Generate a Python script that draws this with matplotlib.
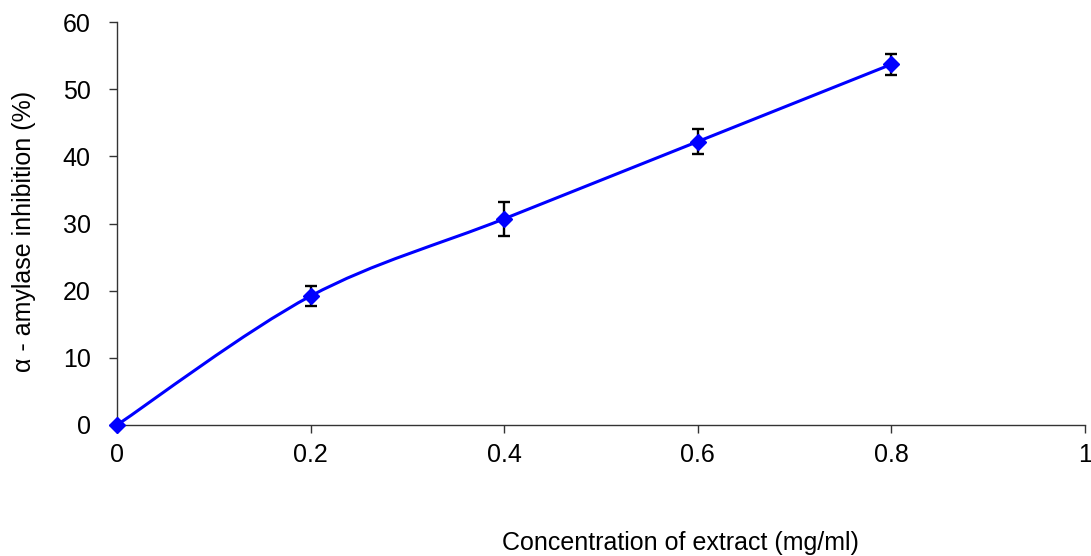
import matplotlib
matplotlib.use("Agg")
import matplotlib.pyplot as plt
from matplotlib.path import Path
from matplotlib.patches import PathPatch
import numpy as np

concentration = [0.0, 0.2, 0.4, 0.6, 0.8]
inhibition = [0.0, 19.2, 30.7, 42.2, 53.7]
error = [0.0, 1.5, 2.5, 1.9, 1.6]
xticks = [0, 0.2, 0.4, 0.6, 0.8, 1]
xticklabels = ["0", "0.2", "0.4", "0.6", "0.8", "1"]
yticks = [0, 10, 20, 30, 40, 50, 60]

plt.rcParams['font.family'] = ['Liberation Sans', 'DejaVu Sans']

fig = plt.figure(figsize=(10.91, 5.56), dpi=100)
ax = fig.add_axes([117/1091, 1-425/556, (1085-117)/1091, (425-22)/556])

# smoothed line (Catmull-Rom as cubic Bezier, Excel-like)
P = np.column_stack([concentration, inhibition])
n = len(P)
verts = [tuple(P[0])]
codes = [Path.MOVETO]
for i in range(n - 1):
    p0 = P[i - 1] if i > 0 else P[i]
    p1 = P[i]
    p2 = P[i + 1]
    p3 = P[i + 2] if i + 2 < n else P[i + 1]
    c1 = p1 + (p2 - p0) / 6.0
    c2 = p2 - (p3 - p1) / 6.0
    verts += [tuple(c1), tuple(c2), tuple(p2)]
    codes += [Path.CURVE4] * 3
ax.add_patch(PathPatch(Path(verts, codes), facecolor='none', edgecolor='#0000FF', lw=2.2, zorder=2))

ax.errorbar(concentration[1:], inhibition[1:], yerr=error[1:], fmt='none', ecolor='black',
            elinewidth=1.7, capsize=4.5, capthick=1.7, zorder=3)
ax.plot(concentration, inhibition, linestyle='none', marker='D', markersize=8.5,
        color='#0000FF', zorder=4, clip_on=False)

ax.set_xlim(0, 1)
ax.set_ylim(0, 60)
ax.set_xticks(xticks)
ax.set_xticklabels(xticklabels)
ax.set_yticks(yticks)
for s in ['top', 'right']:
    ax.spines[s].set_visible(False)
for s in ['left', 'bottom']:
    ax.spines[s].set_linewidth(1.0)
    ax.spines[s].set_color('#333333')
ax.tick_params(direction='out', length=6, width=1.0, color='#333333', labelsize=18)
ax.tick_params(axis='x', pad=7)
ax.tick_params(axis='y', pad=13)

fig.text(680/1091, 1-543/556, 'Concentration of extract (mg/ml)', fontsize=18,
         ha='center', va='center')
fig.text(24/1091, 1-231/556, 'α - amylase inhibition (%)', fontsize=18,
         ha='center', va='center', rotation=90)

fig.savefig('out.png', dpi=100)
